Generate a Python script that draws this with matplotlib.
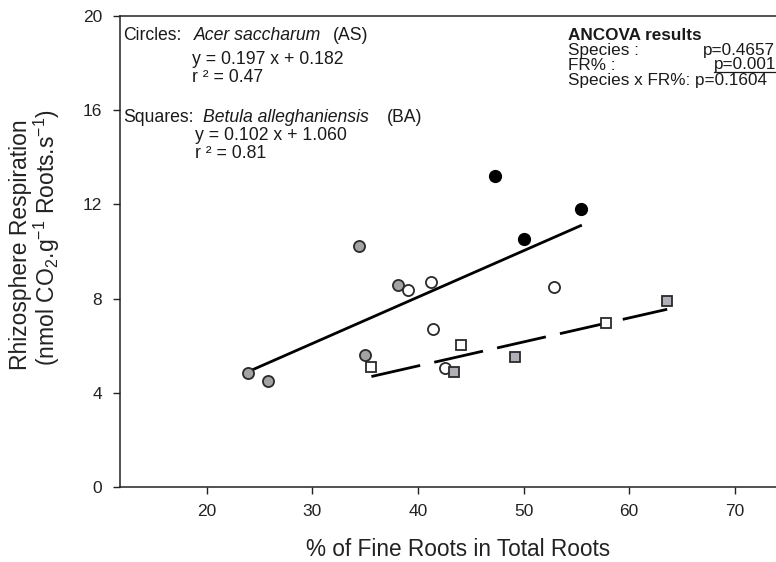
import matplotlib
matplotlib.use("Agg")
import numpy as np
import matplotlib.pyplot as plt

plt.rcParams["font.family"] = ["Liberation Sans", "DejaVu Sans"]
plt.rcParams["mathtext.fontset"] = "custom"
plt.rcParams["mathtext.rm"] = "Liberation Sans"
plt.rcParams["mathtext.it"] = "Liberation Sans:italic"

# ---------------------------------------------------------
# data
# ---------------------------------------------------------

# Acer saccharum (circles)
as_gray_x = [23.9, 25.8, 34.4, 35.0, 38.1]
as_gray_y = [4.86, 4.52, 10.24, 5.59, 8.57]
as_open_x = [39.1, 41.2, 41.4, 42.6, 52.9]
as_open_y = [8.38, 8.72, 6.71, 5.05, 8.50]
as_black_x = [47.3, 50.0, 55.4]
as_black_y = [13.20, 10.54, 11.82]

# Betula alleghaniensis (squares)
ba_open_x = [35.6, 44.1, 57.8]
ba_open_y = [5.11, 6.04, 6.97]
ba_gray_x = [43.4, 49.2, 63.6]
ba_gray_y = [4.88, 5.50, 7.91]

# regression equations printed on the chart (slope, intercept)
as_fit = [0.197, 0.182]
ba_fit = [0.102, 1.060]

x_ticks = [20, 30, 40, 50, 60, 70]
y_ticks = [0, 4, 8, 12, 16, 20]

W, H = 776, 562


def fpos(px, py):
    # pixel position -> figure fraction
    return px / W, 1 - py / H


fig = plt.figure(figsize=(W / 100, H / 100), dpi=100)
ax = fig.add_axes([120 / W, (H - 487) / H, (W - 120) / W, (487 - 16) / H])

# ---------------------------------------------------------
# regression lines
# ---------------------------------------------------------

as_x = np.array(as_gray_x + as_open_x + as_black_x)
ba_x = np.array(ba_open_x + ba_gray_x)

xs = np.array([as_x.min(), as_x.max()])
ax.plot(xs, np.polyval(as_fit, xs), color="black", lw=2.0, zorder=2)

xs = np.array([ba_x.min(), ba_x.max()])
ln, = ax.plot(xs, np.polyval(ba_fit, xs), color="black", lw=2.0, zorder=2)
ln.set_dashes((18, 5.2))

# ---------------------------------------------------------
# points
# ---------------------------------------------------------

ax.plot(as_gray_x, as_gray_y, "o", ms=8, mfc="#a3a3a3", mec="#2a2a2a", mew=1.3, zorder=3)
ax.plot(as_open_x, as_open_y, "o", ms=8, mfc="white", mec="#2a2a2a", mew=1.3, zorder=3)
ax.plot(as_black_x, as_black_y, "o", ms=8.5, mfc="black", mec="black", mew=1.0, zorder=3)
ax.plot(ba_open_x, ba_open_y, "s", ms=7.5, mfc="white", mec="#2a2a2a", mew=1.3, zorder=3)
ax.plot(ba_gray_x, ba_gray_y, "s", ms=7.5, mfc="#b0b0b8", mec="#2a2a2a", mew=1.3, zorder=3)

# ---------------------------------------------------------
# axes
# ---------------------------------------------------------

ax.set_xlim(11.8, 73.9)
ax.set_ylim(0, 20)
ax.set_xticks(x_ticks)
ax.set_yticks(y_ticks)
ax.tick_params(direction="out", length=5, width=1.0, colors="#222222",
               labelsize=12.5)
ax.tick_params(axis="y", pad=8)
ax.tick_params(axis="x", pad=7)
ax.spines["right"].set_visible(False)
for s in ["left", "bottom", "top"]:
    ax.spines[s].set_linewidth(1.1)
    ax.spines[s].set_color("#222222")

fig.text(*fpos(458, 549), "% of Fine Roots in Total Roots", fontsize=16.3,
         ha="center", va="center", color="#222222")
fig.text(*fpos(21, 245), "Rhizosphere Respiration", fontsize=16.5,
         rotation=90, ha="center", va="center", color="#222222")
fig.text(*fpos(47, 237), r"(nmol CO$_2$.g$^{-1}$ Roots.s$^{-1}$)", fontsize=16.5,
         rotation=90, ha="center", va="center", color="#222222")

# ---------------------------------------------------------
# annotations
# ---------------------------------------------------------

tc = "#1a1a1a"
fs = 12.7
fig.text(*fpos(123, 35), "Circles:", fontsize=fs, va="center", color=tc)
fig.text(*fpos(194, 35), "Acer saccharum", fontsize=fs, va="center", style="italic", color=tc)
fig.text(*fpos(333, 35), "(AS)", fontsize=fs, va="center", color=tc)
fig.text(*fpos(192, 59), "y = 0.197 x + 0.182", fontsize=fs, va="center", color=tc)
fig.text(*fpos(192, 77), "r ² = 0.47", fontsize=fs, va="center", color=tc)

fig.text(*fpos(123, 117), "Squares:", fontsize=fs, va="center", color=tc)
fig.text(*fpos(203, 117), "Betula alleghaniensis", fontsize=fs, va="center", style="italic", color=tc)
fig.text(*fpos(387, 117), "(BA)", fontsize=fs, va="center", color=tc)
fig.text(*fpos(195, 136), "y = 0.102 x + 1.060", fontsize=fs, va="center", color=tc)
fig.text(*fpos(195, 153), "r ² = 0.81", fontsize=fs, va="center", color=tc)

fs2 = 12.3
fig.text(*fpos(568, 35), "ANCOVA results", fontsize=fs2, va="center", weight="bold", color=tc)
fig.text(*fpos(568, 51), "Species :", fontsize=fs2, va="center", color=tc)
fig.text(*fpos(703, 51), "p=0.4657", fontsize=fs2, va="center", color=tc)
fig.text(*fpos(568, 65), "FR% :", fontsize=fs2, va="center", color=tc)
fig.text(*fpos(714, 65), "p=0.0012", fontsize=fs2, va="center", color=tc)
fig.add_artist(plt.Line2D([714 / W, 1.0], [1 - 72.5 / H] * 2, color=tc, lw=0.9))
fig.text(*fpos(568, 80), "Species x FR%: p=0.1604", fontsize=fs2, va="center", color=tc)

fig.savefig("out.png", dpi=100)
